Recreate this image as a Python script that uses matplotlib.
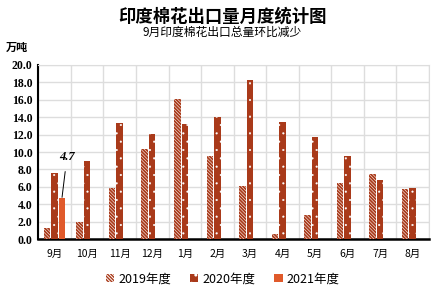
import matplotlib
matplotlib.use('Agg')
import matplotlib.pyplot as plt
from matplotlib.patches import Patch
import numpy as np

plt.rcParams['font.family'] = ['Noto Sans CJK SC', 'DejaVu Sans']

# 数据
months = ['9月', '10月', '11月', '12月', '1月', '2月', '3月', '4月', '5月', '6月', '7月', '8月']
y2019 = [1.3, 2.0, 5.9, 10.3, 16.1, 9.6, 6.1, 0.6, 2.8, 6.5, 7.5, 5.8]
y2020 = [7.6, 9.0, 13.3, 12.1, 13.2, 14.0, 18.3, 13.5, 11.7, 9.6, 6.8, 5.9]
y2021 = [4.7]
series_names = ['2019年度', '2020年度', '2021年度']

brown = '#A93A1A'
orange = '#E05A2B'
stripe = '\\' * 10

fig = plt.figure(figsize=(4.45, 2.99), dpi=100)
ax = fig.add_axes([0.086, 0.2, 0.878, 0.583])

x = np.arange(len(months))
w = 0.2
off = 0.23

with plt.rc_context({'hatch.linewidth': 1.3}):
    ax.bar(x - off, y2019, w, facecolor='white', edgecolor=brown, hatch=stripe, linewidth=0, zorder=3)
    h19 = Patch(facecolor='white', edgecolor=brown, hatch=stripe, linewidth=0)
with plt.rc_context({'hatch.linewidth': 0.3}):
    ax.bar(x, y2020, w, facecolor=brown, edgecolor='white', hatch='..', linewidth=0, zorder=3)
    h20 = Patch(facecolor=brown, edgecolor='white', hatch='..', linewidth=0)
ax.bar(x[:len(y2021)] + off, y2021, w, color=orange, linewidth=0, zorder=3)
h21 = Patch(facecolor=orange, linewidth=0)

ax.annotate('4.7', xy=(off, y2021[0] + 0.1), xytext=(0.38, 9.4),
            ha='center', va='center', fontsize=9, fontweight='bold', fontstyle='italic',
            family='Liberation Serif',
            arrowprops=dict(arrowstyle='-', color='black', lw=0.7, shrinkA=4, shrinkB=0))

ax.set_xlim(-0.5, len(months) - 0.5)
ax.set_ylim(0, 20)
ax.set_yticks(np.arange(0, 20.1, 2))
ax.set_yticklabels([f'{v:.1f}' for v in np.arange(0, 20.1, 2)],
                   family='Liberation Serif', fontweight='bold', fontsize=8.5)
ax.set_xticks(x)
ax.set_xticklabels(months, fontsize=7.5)
ax.set_xticks(np.arange(-0.5, len(months)), minor=True)
ax.tick_params(axis='both', length=0, pad=4)
ax.tick_params(axis='x', pad=7)
ax.tick_params(axis='x', which='minor', length=0)

ax.grid(axis='y', color='#DDDDDD', lw=1, zorder=0)
ax.grid(axis='x', which='minor', color='#DDDDDD', lw=1, zorder=0)
ax.grid(axis='x', which='major', visible=False)

for s in ['top', 'right']:
    ax.spines[s].set_color('#DDDDDD')
ax.spines['left'].set_color('black')
ax.spines['left'].set_linewidth(1.5)
ax.spines['bottom'].set_color('black')
ax.spines['bottom'].set_linewidth(1.8)

fig.text(0.5, 0.945, '印度棉花出口量月度统计图', ha='center', va='center',
         fontsize=12.5, fontweight='bold')
fig.text(0.5, 0.893, '9月印度棉花出口总量环比减少', ha='center', va='center', fontsize=8.5)
fig.text(0.012, 0.843, '万吨', ha='left', va='center', fontsize=8, fontweight='bold')

fig.legend([h19, h20, h21], series_names, loc='center', bbox_to_anchor=(0.5, 0.067), ncol=3,
           frameon=False, fontsize=9, handlelength=0.7, handleheight=0.7,
           handletextpad=0.3, columnspacing=1.5)

fig.savefig('out.png', dpi=100)
